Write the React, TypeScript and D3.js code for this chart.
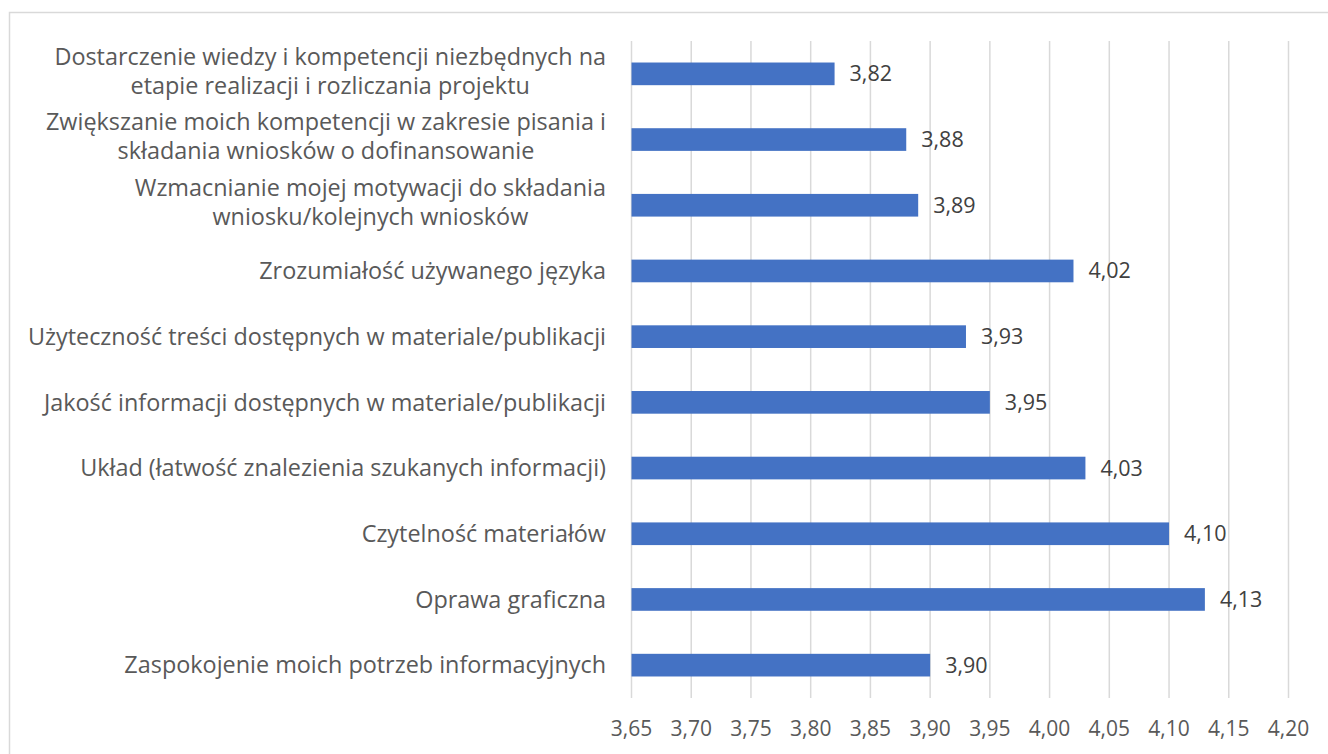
import React, { useEffect, useRef } from "react";
import * as d3 from "d3";

const categories = [
  "Dostarczenie wiedzy i kompetencji niezbędnych na\netapie realizacji i rozliczania projektu",
  "Zwiększanie moich kompetencji w zakresie pisania i\nskładania wniosków o dofinansowanie",
  "Wzmacnianie mojej motywacji do składania\nwniosku/kolejnych wniosków",
  "Zrozumiałość używanego języka",
  "Użyteczność treści dostępnych w materiale/publikacji",
  "Jakość informacji dostępnych w materiale/publikacji",
  "Układ (łatwość znalezienia szukanych informacji)",
  "Czytelność materiałów",
  "Oprawa graficzna",
  "Zaspokojenie moich potrzeb informacyjnych",
];

const values = [3.82, 3.88, 3.89, 4.02, 3.93, 3.95, 4.03, 4.1, 4.13, 3.9];

const tickValues = [3.65, 3.7, 3.75, 3.8, 3.85, 3.9, 3.95, 4.0, 4.05, 4.1, 4.15, 4.2];

const fmt = (v: number) => d3.format(".2f")(v).replace(".", ",");

function App() {
  const svgRef = useRef<SVGSVGElement>(null);
  const width = 1328;
  const height = 754;

  useEffect(() => {
    const svg = d3.select(svgRef.current);
    svg.selectAll("*").remove();

    const font = "'Open Sans', Lato, sans-serif";
    const labelSize = 23.4;
    const tickSize = 21;
    const valueSize = 21.5;

    // chart border
    svg
      .append("rect")
      .attr("x", 9.5)
      .attr("y", 12.5)
      .attr("width", 1340)
      .attr("height", 760)
      .attr("fill", "white")
      .attr("stroke", "#d9d9d9")
      .attr("stroke-width", 1.5);

    const x = d3.scaleLinear().domain([3.65, 4.2]).range([631.5, 1288.5]);
    const y = d3
      .scaleBand()
      .domain(categories)
      .range([41, 698])
      .paddingInner(0.655)
      .paddingOuter(0.3275);

    // vertical gridlines
    svg
      .append("g")
      .selectAll("line")
      .data(tickValues)
      .enter()
      .append("line")
      .attr("x1", (d) => x(d))
      .attr("x2", (d) => x(d))
      .attr("y1", 41)
      .attr("y2", 698)
      .attr("stroke", "#d9d9d9")
      .attr("stroke-width", 1.5);

    // tick labels
    svg
      .append("g")
      .selectAll("text")
      .data(tickValues)
      .enter()
      .append("text")
      .attr("x", (d) => x(d))
      .attr("y", 729)
      .attr("dy", "0.35em")
      .attr("text-anchor", "middle")
      .style("font-family", font)
      .style("font-size", `${tickSize}px`)
      .style("fill", "#595959")
      .text((d) => fmt(d));

    // bars
    svg
      .append("g")
      .selectAll("rect")
      .data(values)
      .enter()
      .append("rect")
      .attr("x", x(3.65))
      .attr("y", (d, i) => y(categories[i])!)
      .attr("width", (d) => x(d) - x(3.65))
      .attr("height", y.bandwidth())
      .attr("fill", "#4472c4");

    // value labels
    svg
      .append("g")
      .selectAll("text")
      .data(values)
      .enter()
      .append("text")
      .attr("x", (d) => x(d) + 15)
      .attr("y", (d, i) => y(categories[i])! + y.bandwidth() / 2)
      .attr("dy", "0.35em")
      .style("font-family", font)
      .style("font-size", `${valueSize}px`)
      .style("fill", "#404040")
      .text((d) => fmt(d));

    // category labels: multi-line blocks centred, block right-aligned
    const labelRight = 606;
    const lineHeight = 29;
    const labels = svg.append("g");
    categories.forEach((cat) => {
      const lines = cat.split("\n");
      const cy = y(cat)! + y.bandwidth() / 2 - (lines.length > 1 ? 3 : 0);
      const t = labels
        .append("text")
        .attr("text-anchor", "middle")
        .style("font-family", font)
        .style("font-size", `${labelSize}px`)
        .style("fill", "#595959");
      const spans = lines.map((ln, j) =>
        t
          .append("tspan")
          .attr("y", cy + (j - (lines.length - 1) / 2) * lineHeight)
          .attr("dy", "0.35em")
          .text(ln)
      );
      const maxW = d3.max(spans, (s) => (s.node() as SVGTSpanElement).getComputedTextLength()) || 0;
      spans.forEach((s) => s.attr("x", labelRight - maxW / 2));
    });
  }, []);

  return (
    <div style={{ position: "absolute", left: 0, top: 0 }}>
      <svg ref={svgRef} width={width} height={height} style={{ display: "block" }}></svg>
    </div>
  );
}

export default App;
